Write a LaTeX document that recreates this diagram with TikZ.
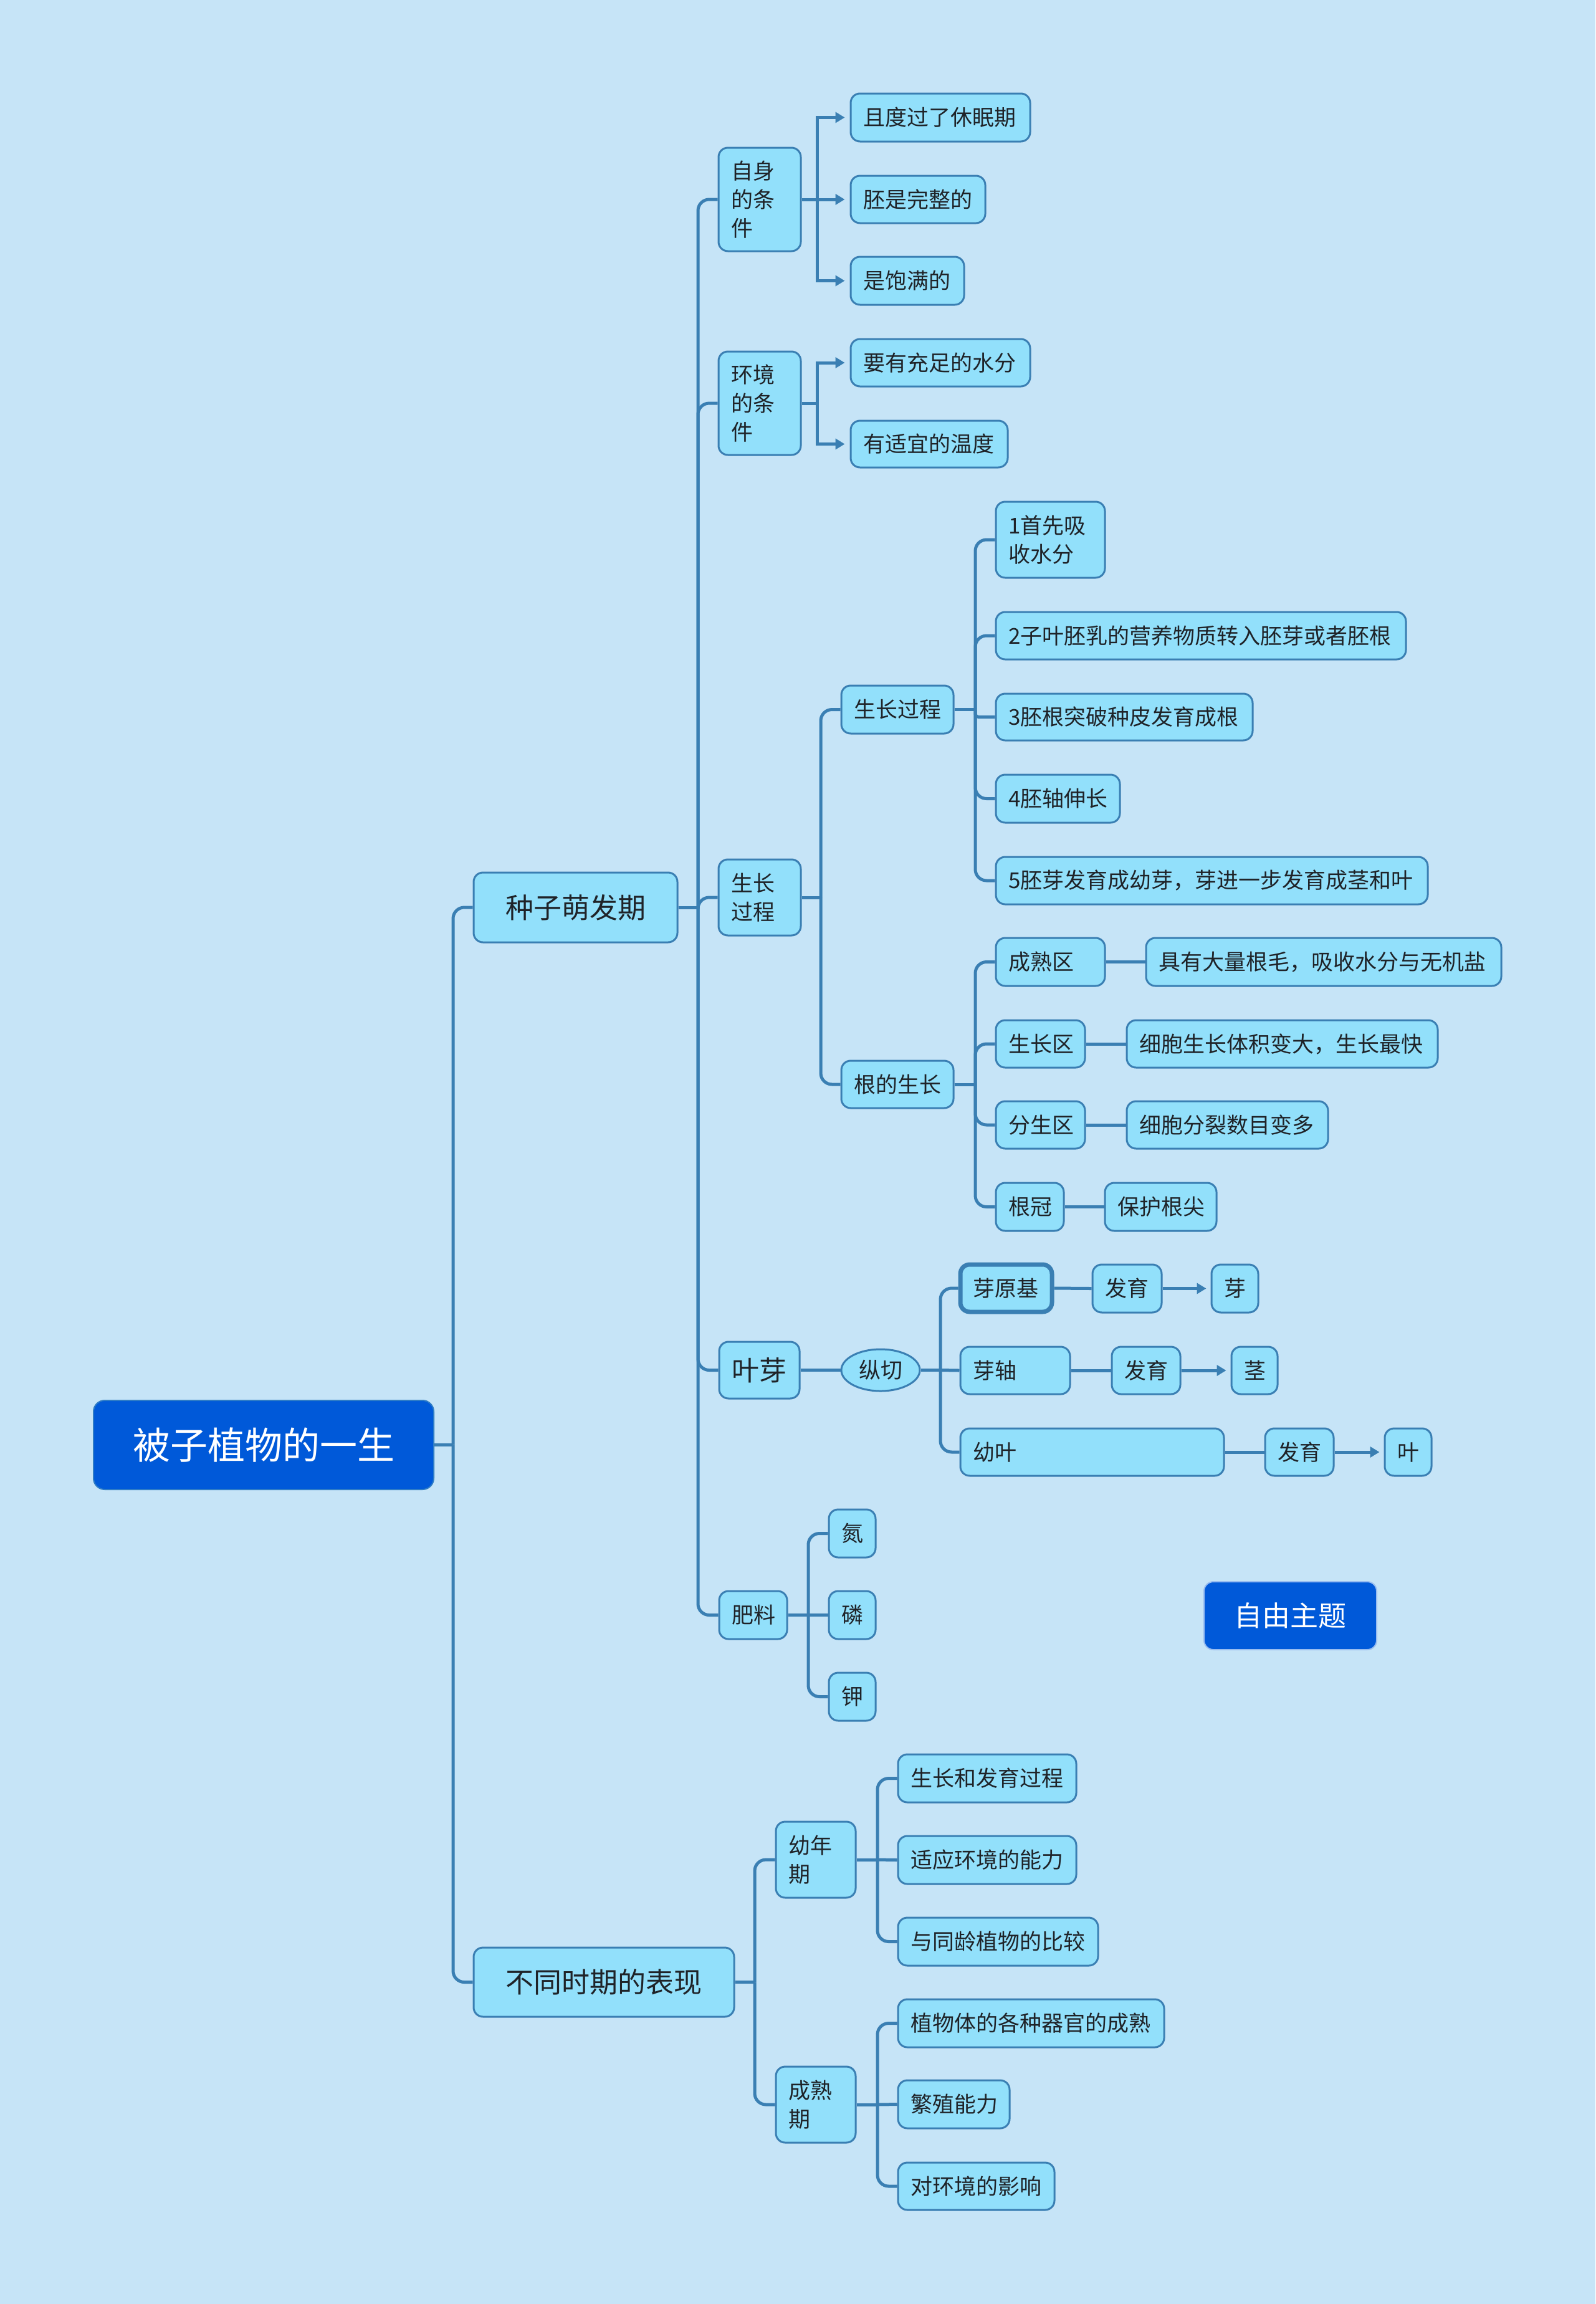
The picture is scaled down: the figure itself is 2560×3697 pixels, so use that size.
\documentclass[tikz,border=0pt]{standalone}
\usepackage{fontspec}
\setmainfont{Noto Sans CJK SC}
\usetikzlibrary{arrows.meta,shapes.geometric}
\definecolor{bg}{HTML}{C6E4F7}
\definecolor{bf}{HTML}{92E0FB}
\definecolor{bd}{HTML}{3A7FB3}
\definecolor{ln}{HTML}{3A7FB3}
\definecolor{tx}{HTML}{1F2328}
\definecolor{rt}{HTML}{0059D9}
\definecolor{rtb}{HTML}{2E7CC6}
\newcommand\bx[7][]{%
  \pgfmathsetmacro\bxt{#5-#3-40}%
  \pgfmathsetmacro\bxh{#6-#4}%
  \pgfmathsetmacro\bxx{(#3+#5)/2}%
  \pgfmathsetmacro\bxy{(#4+#6)/2}%
  \node[box,text width=\bxt pt,minimum height=\bxh pt,#1] (#2) at (\bxx,\bxy) {#7};}
\begin{document}
\begin{tikzpicture}[x=1pt,y=-1pt,
  box/.style={draw=bd,fill=bf,line width=3pt,rounded corners=15pt,inner xsep=20pt,inner ysep=0pt,align=left,text=tx,font=\fontsize{35}{46}\selectfont},
  bigf/.style={font=\fontsize{45}{56}\selectfont},
  ell/.style={ellipse,draw=bd,fill=bf,line width=3pt,minimum width=126pt,minimum height=67pt,inner sep=0pt,text=tx,font=\fontsize{35}{46}\selectfont},
  conn/.style={draw=ln,line width=5pt},
  arr/.style={conn,-{Triangle[length=15pt,width=17pt]},shorten >=8pt},
  rc/.style={rounded corners=18pt}]
\fill[bg] (0,0) rectangle (2560,3697);
\useasboundingbox (0,0) rectangle (2560,3697);

% ---------- nodes ----------
\bx[align=center,fill=rt,draw=rtb,text=white,line width=2pt,rounded corners=18pt,font=\fontsize{60}{70}\selectfont]{root}{150}{2247}{696}{2390}{被子植物的一生}
\bx[align=center,bigf]{s1}{760}{1400}{1087}{1512}{种子萌发期}
\bx[align=center,bigf]{s2}{760}{3125}{1178}{3236}{不同时期的表现}

\bx{a}{1153}{237}{1285}{403}{自身\\的条\\件}
\bx{b}{1153}{564}{1285}{730}{环境\\的条\\件}
\bx{c}{1153}{1379}{1285}{1501}{生长\\过程}
\bx[font=\fontsize{44}{56}\selectfont]{d}{1154}{2153}{1283}{2244}{叶芽}
\bx{e}{1154}{2553}{1263}{2630}{肥料}

\bx{a1}{1365}{150}{1653}{227}{且度过了休眠期}
\bx{a2}{1365}{282}{1581}{358}{胚是完整的}
\bx{a3}{1365}{412}{1547}{489}{是饱满的}
\bx{b1}{1365}{544}{1653}{620}{要有充足的水分}
\bx{b2}{1365}{675}{1617}{750}{有适宜的温度}

\bx{c1}{1350}{1100}{1530}{1177}{生长过程}
\bx{c2}{1350}{1702}{1530}{1778}{根的生长}

\bx{p1}{1598}{805}{1773}{927}{1首先吸\\收水分}
\bx{p2}{1598}{982}{2256}{1058}{2子叶胚乳的营养物质转入胚芽或者胚根}
\bx{p3}{1598}{1113}{2010}{1188}{3胚根突破种皮发育成根}
\bx{p4}{1598}{1243}{1797}{1320}{4胚轴伸长}
\bx{p5}{1598}{1375}{2291}{1451}{5胚芽发育成幼芽，芽进一步发育成茎和叶}

\bx{r1}{1598}{1505}{1773}{1582}{成熟区}
\bx{r1b}{1839}{1505}{2409}{1582}{具有大量根毛，吸收水分与无机盐}
\bx{r2}{1598}{1637}{1741}{1713}{生长区}
\bx{r2b}{1808}{1637}{2307}{1713}{细胞生长体积变大，生长最快}
\bx{r3}{1598}{1767}{1741}{1843}{分生区}
\bx{r3b}{1808}{1767}{2131}{1843}{细胞分裂数目变多}
\bx{r4}{1598}{1898}{1707}{1975}{根冠}
\bx{r4b}{1773}{1898}{1952}{1975}{保护根尖}

\node[ell] (zq) at (1413,2198.5) {纵切};
\bx[line width=7pt]{y1}{1541}{2029}{1688}{2105}{芽原基}
\bx{y1a}{1753}{2029}{1864}{2106}{发育}
\bx{y1b}{1944}{2029}{2019}{2106}{芽}
\bx{y2}{1541}{2161}{1717}{2237}{芽轴}
\bx{y2a}{1784}{2161}{1894}{2237}{发育}
\bx{y2b}{1976}{2161}{2050}{2237}{茎}
\bx{y3}{1541}{2292}{1964}{2368}{幼叶}
\bx{y3a}{2030}{2292}{2140}{2368}{发育}
\bx{y3b}{2222}{2292}{2297}{2368}{叶}

\bx{e1}{1330}{2422}{1405}{2499}{氮}
\bx{e2}{1330}{2553}{1405}{2630}{磷}
\bx{e3}{1330}{2684}{1405}{2761}{钾}
\bx[align=center,bigf,fill=rt,draw=white!60!rt,text=white,line width=2pt]{free}{1932}{2538}{2209}{2647}{自由主题}

\bx{g1}{1245}{2923}{1373}{3045}{幼年\\期}
\bx{g2}{1245}{3316}{1373}{3438}{成熟\\期}
\bx{g1a}{1441}{2815}{1727}{2892}{生长和发育过程}
\bx{g1b}{1441}{2946}{1727}{3023}{适应环境的能力}
\bx{g1c}{1441}{3077}{1762}{3154}{与同龄植物的比较}
\bx{g2a}{1441}{3208}{1868}{3285}{植物体的各种器官的成熟}
\bx{g2b}{1441}{3338}{1620}{3415}{繁殖能力}
\bx{g2c}{1441}{3470}{1692}{3546}{对环境的影响}

% ---------- connectors ----------
\coordinate (J0) at (727,2318.5);
\draw[conn] (root.east) -- (J0);
\draw[conn,rc] (J0) |- (s1.west);
\draw[conn,rc] (J0) |- (s2.west);

\coordinate (J1) at (1120,1456);
\draw[conn] (s1.east) -- (J1);
\foreach \n in {a,b,c,d,e} \draw[conn,rc] (J1) |- (\n.west);

\coordinate (Ja) at (1311,320);
\draw[conn] (a.east) -- (Ja);
\draw[arr] (Ja) |- (a1.west);
\draw[arr] (Ja) -- (a2.west);
\draw[arr] (Ja) |- (a3.west);

\coordinate (Jb) at (1311,647);
\draw[conn] (b.east) -- (Jb);
\draw[arr] (Jb) |- (b1.west);
\draw[arr] (Jb) |- (b2.west);

\coordinate (Jc) at (1317,1440);
\draw[conn] (c.east) -- (Jc);
\draw[conn,rc] (Jc) |- (c1.west);
\draw[conn,rc] (Jc) |- (c2.west);

\coordinate (Jc1) at (1565,1138.5);
\draw[conn] (c1.east) -- (Jc1);
\draw[conn,rc] (Jc1) |- (p1.west);
\draw[conn,rc] (Jc1) |- (p2.west);
\draw[conn,rounded corners=5pt] (Jc1) |- (p3.west);
\draw[conn,rc] (Jc1) |- (p4.west);
\draw[conn,rc] (Jc1) |- (p5.west);

\coordinate (Jc2) at (1565,1740);
\draw[conn] (c2.east) -- (Jc2);
\foreach \n in {r1,r2,r3,r4} \draw[conn,rc] (Jc2) |- (\n.west);
\draw[conn] (r1.east) -- (r1b.west);
\draw[conn] (r2.east) -- (r2b.west);
\draw[conn] (r3.east) -- (r3b.west);
\draw[conn] (r4.east) -- (r4b.west);

\draw[conn] (d.east) -- (zq.west);
\coordinate (Jd) at (1509,2198.5);
\draw[conn] (zq.east) -- (Jd);
\draw[conn,rc] (Jd) |- (y1.west);
\draw[conn] (Jd) -- (y2.west);
\draw[conn,rc] (Jd) |- (y3.west);
\draw[conn] (y1.east) -- (y1a.west);
\draw[arr,shorten >=7pt] (y1a.east) -- (y1b.west);
\draw[conn] (y2.east) -- (y2a.west);
\draw[arr,shorten >=7pt] (y2a.east) -- (y2b.west);
\draw[conn] (y3.east) -- (y3a.west);
\draw[arr,shorten >=7pt] (y3a.east) -- (y3b.west);

\coordinate (Je) at (1297,2591.5);
\draw[conn] (e.east) -- (Je);
\draw[conn,rc] (Je) |- (e1.west);
\draw[conn] (Je) -- (e2.west);
\draw[conn,rc] (Je) |- (e3.west);

\coordinate (Js) at (1211,3180.5);
\draw[conn] (s2.east) -- (Js);
\draw[conn,rc] (Js) |- (g1.west);
\draw[conn,rc] (Js) |- (g2.west);

\coordinate (Jg1) at (1408,2984);
\draw[conn] (g1.east) -- (Jg1);
\draw[conn,rc] (Jg1) |- (g1a.west);
\draw[conn] (Jg1) -- (g1b.west);
\draw[conn,rc] (Jg1) |- (g1c.west);

\coordinate (Jg2) at (1408,3377);
\draw[conn] (g2.east) -- (Jg2);
\draw[conn,rc] (Jg2) |- (g2a.west);
\draw[conn] (Jg2) -- (g2b.west);
\draw[conn,rc] (Jg2) |- (g2c.west);
\end{tikzpicture}
\end{document}
